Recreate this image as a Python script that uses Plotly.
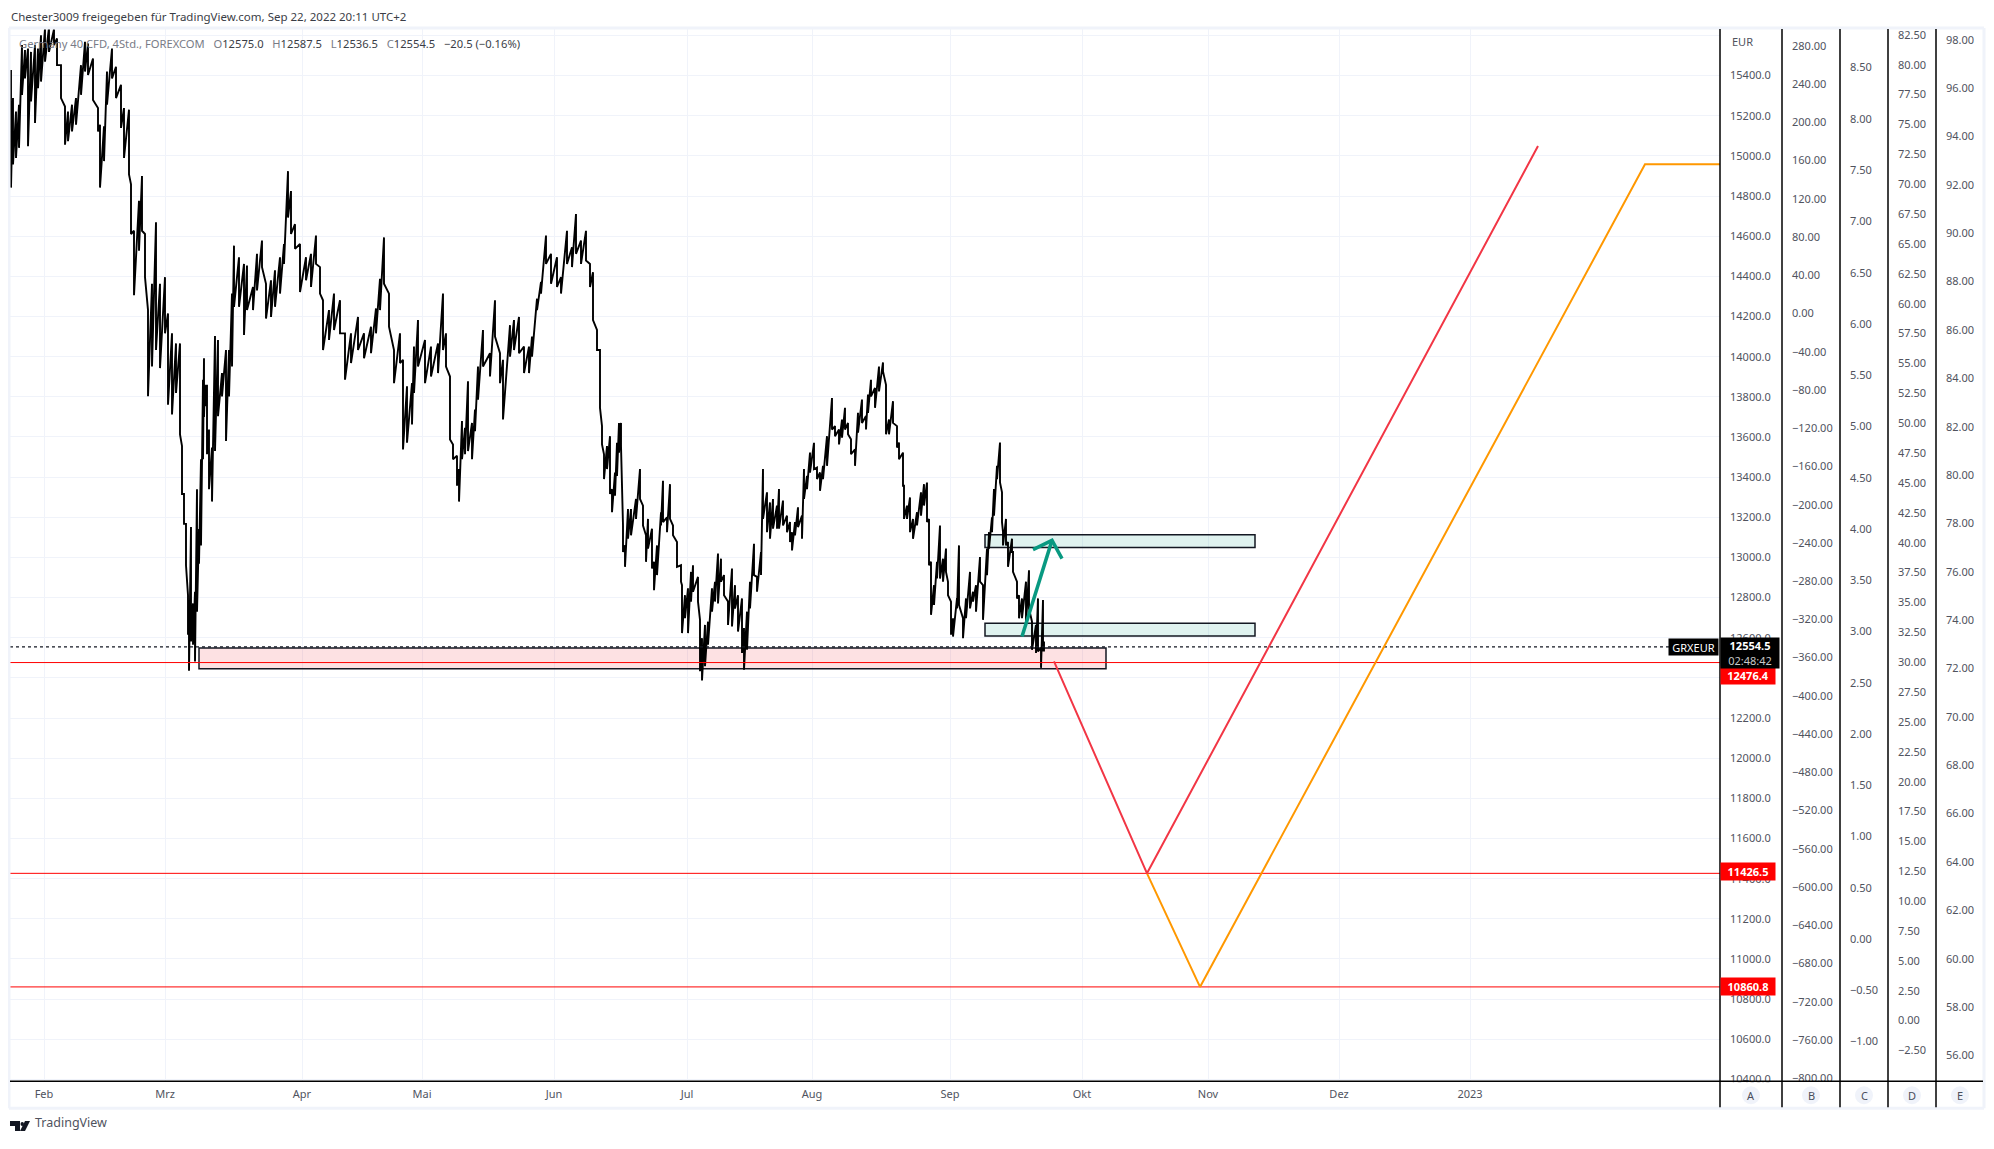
import plotly.graph_objects as go

W, H = 1994, 1149
FONT = "Noto Sans"

# 4h bars, bar number counted from the left edge of the chart
bar_no = [1, 3, 6, 9, 12, 15, 18, 21, 25, 28, 31, 35, 39, 44, 47, 51, 55, 58, 62, 66, 71, 75, 78, 83, 88, 90, 94, 97,
          102, 106, 111, 114, 119, 121, 124, 129, 132, 135, 138, 142, 146, 150, 155, 158, 162, 166, 170, 172, 174,
          176, 178, 179, 181, 183, 185, 187, 189, 191, 193, 194, 195, 197, 199, 202, 205, 208, 212, 216, 219, 222,
          224, 229, 234, 237, 243, 247, 252, 256, 261, 265, 270, 274, 278, 281, 285, 290, 296, 301, 306, 310, 313,
          319, 324, 330, 335, 341, 348, 354, 361, 366, 370, 374, 379, 384, 390, 393, 397, 402, 404, 408, 415, 421,
          428, 433, 436, 440, 443, 447, 449, 452, 455, 458, 462, 465, 468, 473, 480, 485, 490, 493, 500, 504, 509,
          514, 519, 522, 527, 531, 536, 541, 547, 551, 557, 562, 566, 571, 576, 580, 583, 587, 590, 592, 594, 597,
          600, 602, 605, 607, 609, 611, 613, 615, 618, 621, 626, 630, 633, 636, 638, 642, 644, 647, 651, 653, 657,
          660, 663, 667, 671, 672, 675, 678, 681, 683, 688, 690, 692, 695, 698, 702, 705, 708, 711, 714, 718, 722,
          725, 728, 732, 734, 737, 740, 744, 747, 751, 753, 757, 760, 763, 767, 769, 773, 777, 780, 782, 785, 788,
          792, 794, 797, 800, 804, 807, 810, 813, 817, 822, 825, 829, 832, 835, 838, 841, 845, 848, 852, 856, 858,
          861, 865, 869, 873, 876, 879, 883, 887, 889, 893, 894, 897, 900, 903, 907, 911, 914, 917, 919, 921, 924,
          927, 930, 933, 936, 938, 941, 943, 947, 949, 953, 956, 960, 963, 966, 970, 973, 977, 979, 982, 984, 987,
          990, 992, 993, 996, 998, 1002, 1003, 1007, 1009, 1012, 1016, 1019, 1022, 1026, 1028, 1031, 1033, 1034]
high = [15428, 15288, 15221, 15255, 15552, 15527, 15535, 15518, 15552, 15535, 15601, 15634, 15640, 15631, 15585, 15452,
        15246, 15221, 15255, 15288, 15452, 15568, 15560, 15485, 15238, 15155, 15147, 15420, 15535, 15444, 15354, 15238,
        15230, 14858, 14627, 14776, 14900, 14611, 14232, 14363, 14669, 14363, 14396, 14215, 14116, 14066, 14066, 13555,
        13316, 13167, 12812, 12788, 13151, 12771, 12829, 13340, 13142, 13489, 13885, 13992, 13860, 13860, 13637, 13547,
        14103, 14083, 13918, 14033, 14033, 14314, 14553, 14495, 14462, 14454, 14347, 14512, 14578, 14363, 14380, 14430,
        14495, 14561, 14924, 14825, 14660, 14561, 14495, 14512, 14603, 14446, 14281, 14232, 14314, 14281, 14116, 14116,
        14198, 14116, 14149, 14240, 14388, 14594, 14314, 14033, 14116, 13984, 13852, 13868, 14050, 14182, 14083, 14050,
        14066, 14314, 14116, 13901, 13563, 13506, 13440, 13679, 13646, 13877, 13670, 13737, 13951, 14133, 14017, 14281,
        14017, 13984, 14157, 14182, 14198, 14050, 14050, 14100, 14289, 14372, 14603, 14512, 14495, 14396, 14627, 14545,
        14710, 14578, 14627, 14462, 14421, 14133, 14033, 13654, 13514, 13555, 13604, 13340, 13423, 13571, 13670, 13670,
        13159, 13060, 13241, 13241, 13291, 13440, 13258, 13110, 13192, 13143, 12978, 13060, 13225, 13382, 13200, 13365,
        13159, 13077, 12961, 12862, 12812, 12846, 12928, 12961, 12903, 12689, 12598, 12664, 12680, 12846, 12879, 13019,
        12994, 12912, 12780, 12945, 12862, 12812, 12796, 12648, 12730, 12879, 13068, 12903, 13027, 13440, 13324, 13274,
        13291, 13258, 13341, 13283, 13208, 13176, 13126, 13176, 13250, 13208, 13440, 13406, 13522, 13571, 13448, 13423,
        13456, 13604, 13794, 13654, 13637, 13687, 13745, 13670, 13588, 13538, 13720, 13786, 13704, 13811, 13885, 13844,
        13951, 13971, 13860, 13687, 13778, 13654, 13572, 13522, 13357, 13258, 13299, 13192, 13225, 13324, 13365, 13373,
        13192, 12978, 12862, 12978, 13159, 12994, 13044, 12879, 12780, 12697, 12796, 13060, 12697, 12796, 12928, 12829,
        12862, 13002, 12862, 13044, 13126, 13200, 13341, 13456, 13572, 13324, 13126, 13192, 13077, 13093, 13027, 12879,
        12812, 12796, 12879, 12936, 12680, 12664, 12796, 12549, 12788, 12581]
low = [14842, 14957, 14990, 15040, 15304, 15386, 15048, 15271, 15164, 15337, 15370, 15469, 15518, 15552, 15452, 15288,
       15056, 15073, 15122, 15155, 15304, 15420, 15403, 15279, 15122, 14842, 14974, 15255, 15386, 15288, 15139, 14990,
       14908, 14611, 14306, 14528, 14627, 14396, 13803, 13951, 14033, 13943, 14116, 13761, 13712, 13819, 13613, 13316,
       13167, 12961, 12615, 12436, 12581, 12565, 12482, 12730, 12969, 13060, 13489, 13700, 13753, 13514, 13340, 13278,
       13530, 13703, 13802, 13580, 13802, 13951, 14248, 14248, 14108, 14232, 14232, 14330, 14446, 14190, 14198, 14248,
       14314, 14462, 14693, 14611, 14537, 14322, 14380, 14347, 14462, 14314, 14033, 14083, 14133, 14116, 13885, 13968,
       14033, 13992, 14017, 14116, 14232, 14363, 14149, 13868, 13968, 13538, 13571, 13662, 13819, 13951, 13868, 13901,
       13918, 14033, 13951, 13588, 13489, 13357, 13278, 13489, 13514, 13530, 13489, 13629, 13786, 13951, 13901, 14100,
       13868, 13687, 14000, 14033, 14017, 13918, 13918, 14000, 14232, 14314, 14462, 14363, 14347, 14314, 14462, 14446,
       14512, 14462, 14479, 14347, 14182, 14033, 13745, 13563, 13390, 13440, 13316, 13225, 13307, 13406, 13522, 13555,
       13027, 12953, 13093, 13110, 13192, 13291, 13159, 12978, 13044, 12945, 12837, 12912, 13159, 13176, 13126, 13192,
       13110, 12953, 12879, 12623, 12697, 12623, 12780, 12829, 12780, 12433, 12387, 12458, 12565, 12730, 12780, 12771,
       12879, 12812, 12664, 12656, 12746, 12631, 12524, 12441, 12540, 12746, 12912, 12829, 12912, 13192, 13126, 13093,
       13143, 13143, 13143, 13159, 13126, 13077, 13035, 13110, 13151, 13093, 13291, 13340, 13423, 13440, 13390, 13332,
       13390, 13456, 13637, 13604, 13563, 13596, 13637, 13613, 13514, 13456, 13621, 13670, 13637, 13720, 13802, 13745,
       13827, 13926, 13613, 13613, 13670, 13547, 13489, 13357, 13192, 13192, 13126, 13093, 13159, 13208, 13258, 13176,
       12961, 12714, 12763, 12895, 12895, 12879, 12928, 12812, 12615, 12606, 12746, 12763, 12598, 12697, 12746, 12780,
       12730, 12879, 12689, 12912, 13044, 13126, 13208, 13390, 13374, 13176, 13060, 13060, 12953, 13027, 12928, 12796,
       12697, 12697, 12664, 12746, 12540, 12524, 12532, 12450, 12532, 12532]

# price levels and drawings on the chart
close_price = 12554.5
red_levels = [12476.4, 11426.5, 10860.8]
red_path_x = [1044, 1137, 1528]
red_path_y = [12482, 11426.5, 15049]
orange_path_x = [1137, 1190, 1635, 1710]
orange_path_y = [11426.5, 10860.8, 14958, 14958]
arrow_x = [1012, 1042, None, 1023, 1042, 1052]
arrow_y = [12606, 13085, None, 13039, 13085, 12994]
# (first bar, last bar, low, high)
pink_zone = (189, 1096, 12445, 12549)
teal_zones = [(975, 1245, 13049, 13113), (975, 1245, 12608, 12672)]

month_bars = [34, 155, 292, 412, 544, 677, 802, 940, 1072, 1198, 1329, 1460]
month_names = ["Feb", "Mrz", "Apr", "Mai", "Jun", "Jul", "Aug", "Sep", "Okt", "Nov", "Dez", "2023"]

ticks_a = [10400 + 200 * i for i in range(27)]
labels_a = ["%.1f" % t for t in ticks_a[:-1]] + [""]
ticks_b = [-800 + 40 * i for i in range(28)]
ticks_c = [-1 + 0.5 * i for i in range(20)]
ticks_d = [-2.5 + 2.5 * i for i in range(35)]
ticks_e = [56 + 2 * i for i in range(22)]

x0, x1 = 10, 1720
y0, y1 = 27, 1086

# page keeps its 8px body margin plus a small gap under the plot div
BODY = 8
FIG_W, FIG_H = W - 2 * BODY, H - 2 * BODY - 5


def px(x):
    return (x - BODY) / FIG_W


def py(y):
    return 1 - (y - BODY) / FIG_H


fig = go.Figure()
fig.add_trace(go.Scatter(x=[b for b in bar_no for _ in (0, 1)],
                         y=[v for pair in zip(high, low) for v in pair],
                         mode="lines", line=dict(color="#000000", width=1.9)))
fig.add_trace(go.Scatter(x=[0, 1710], y=[close_price, close_price], mode="lines",
                         line=dict(color="#131722", width=1.1, dash="dot")))
for level in red_levels:
    fig.add_trace(go.Scatter(x=[0, 1710], y=[level, level], mode="lines", line=dict(color="#ff0000", width=1)))
fig.add_trace(go.Scatter(x=orange_path_x, y=orange_path_y, mode="lines", line=dict(color="#ff9800", width=2)))
fig.add_trace(go.Scatter(x=red_path_x, y=red_path_y, mode="lines", line=dict(color="#f23645", width=2)))
fig.add_trace(go.Scatter(x=arrow_x, y=arrow_y, mode="lines", line=dict(color="#089981", width=3.5)))
for name in ["y2", "y3", "y4", "y5"]:
    fig.add_trace(go.Scatter(x=[None], y=[None], yaxis=name, mode="lines"))

shapes = []
b0, b1, lo, hi = pink_zone
shapes.append(dict(type="rect", xref="x", yref="y", x0=b0, x1=b1, y0=lo, y1=hi, layer="between",
                   fillcolor="rgba(242,54,69,0.15)", line=dict(color="#131722", width=1.5)))
for b0, b1, lo, hi in teal_zones:
    shapes.append(dict(type="rect", xref="x", yref="y", x0=b0, x1=b1, y0=lo, y1=hi, layer="between",
                       fillcolor="rgba(8,153,129,0.13)", line=dict(color="#131722", width=1.5)))


def paper_rect(xa, ya, xb, yb, color):
    return dict(type="rect", xref="paper", yref="paper", x0=px(xa), x1=px(xb), y0=py(ya), y1=py(yb),
                fillcolor=color, line=dict(width=0), layer="above")


def paper_line(xa, ya, xb, yb, color, width=1.5):
    return dict(type="line", xref="paper", yref="paper", x0=px(xa), x1=px(xb), y0=py(ya), y1=py(yb),
                line=dict(color=color, width=width), layer="above")


# strip under the price scales, the frame and the scale separators
frame = "#f0f3fa"
shapes.append(paper_rect(x1, y1 + 1, 1983, 1112, "#ffffff"))
shapes.append(paper_line(9, 26, 1984, 26, frame, 3))
shapes.append(paper_line(9, 1113, 1984, 1113, frame, 3))
shapes.append(paper_line(9, 26, 9, 1113, frame, 3))
shapes.append(paper_line(1984, 26, 1984, 1113, frame, 3))
shapes.append(paper_line(x0, y1, 1983, y1, "#000000"))
for xv in [1720, 1782, 1840, 1888, 1936]:
    shapes.append(paper_line(xv, 27, xv, 1112, "#000000"))

annotations = []


def note(text, x, y, size=11, color="#50535e", anchor="left", **kw):
    annotations.append(dict(text=text, x=px(x), y=py(y), xref="paper", yref="paper", showarrow=False,
                            xanchor=anchor, yanchor="middle", font=dict(family=FONT, size=size, color=color), **kw))


for letter, cx in zip("ABCDE", [1751, 1811, 1864, 1912, 1960]):
    shapes.append(dict(type="circle", xref="paper", yref="paper", x0=px(cx - 9), x1=px(cx + 9),
                       y0=py(1109), y1=py(1091), fillcolor=frame, line=dict(width=0), layer="above"))
    note(letter, cx, 1100, size=11, color="#4a4e5c", anchor="center")

note("EUR", 1730, 40)
note("Chester3009 freigegeben für TradingView.com, Sep 22, 2022 20:11 UTC+2", 9, 15, size=11.5, color="#3a3d46")
g = "<span style='color:#787b86'>%s</span>"
note(g % "Germany 40 CFD, 4Std., FOREXCOM" + "   " + g % "O" + "12575.0   " + g % "H" + "12587.5   " + g % "L"
     + "12536.5   " + g % "C" + "12554.5   −20.5 (−0.16%)", 17, 42, size=11.2, color="#3a3d46")
note("TradingView", 33, 1127, size=12.5, color="#50535e")

# logo
shapes.append(dict(type="path", xref="paper", yref="paper", fillcolor="#131722", line=dict(width=0), layer="above",
                   path="M %f %f L %f %f L %f %f L %f %f L %f %f L %f %f Z" % (
                       px(10), py(1126), px(20), py(1126), px(20), py(1136), px(15), py(1136), px(15), py(1131),
                       px(10), py(1131))))
shapes.append(dict(type="path", xref="paper", yref="paper", fillcolor="#131722", line=dict(width=0), layer="above",
                   path="M %f %f L %f %f L %f %f L %f %f Z" % (
                       px(25), py(1126), px(30), py(1126), px(25), py(1136), px(20), py(1136))))
shapes.append(dict(type="circle", xref="paper", yref="paper", fillcolor="#131722", line=dict(width=0), layer="above",
                   x0=px(20.5), x1=px(24), y0=py(1131), y1=py(1127)))


def price_label(text, y, width, color):
    annotations.append(dict(text=text, x=px(1720), xref="paper", y=py(y), yref="paper", showarrow=False, xanchor="left",
                            yanchor="middle", width=width, height=15, bgcolor=color, align="center",
                            font=dict(family=FONT, size=11, color="#ffffff")))


for level, label_y in zip(red_levels, [678, 875, 991]):
    price_label("<b>%.1f</b>" % level, label_y, 52, "#ff0000")
annotations.append(dict(text="<b>12554.5</b><br><span style='color:#c8c8c8'>02:48:42</span>", x=px(1720), xref="paper",
                        y=py(655), yref="paper", showarrow=False, xanchor="left", yanchor="middle", width=56, height=28,
                        bgcolor="#000000", font=dict(family=FONT, size=11, color="#ffffff")))
annotations.append(dict(text="GRXEUR", x=px(1719), xref="paper", y=py(649), yref="paper", showarrow=False,
                        xanchor="right", yanchor="middle", width=47, height=14, bgcolor="#000000",
                        font=dict(family=FONT, size=11, color="#ffffff")))

domain_x = [px(x0), px(x1)]
domain_y = [py(y1), py(y0)]
tick_font = dict(family=FONT, size=11, color="#50535e")


def scale(ticks, top, bottom, position, fmt):
    return dict(overlaying="y", anchor="free", position=px(position), side="right", range=[bottom, top],
                tickmode="array", tickvals=ticks, tickformat=fmt, ticks="", showgrid=False, zeroline=False,
                showline=False, ticklabelstandoff=9, tickfont=tick_font)


fig.update_layout(
    width=FIG_W, height=FIG_H, autosize=False, showlegend=False,
    margin=dict(l=0, r=0, t=0, b=0), paper_bgcolor="#ffffff", plot_bgcolor="#ffffff",
    shapes=shapes, annotations=annotations,
    xaxis=dict(domain=domain_x, range=[0, 1710], tickmode="array", tickvals=month_bars, ticktext=month_names,
               showgrid=True, gridcolor="#f0f3fa", gridwidth=1.3, zeroline=False, showline=False, ticks="",
               tickfont=tick_font, ticklabelstandoff=5),
    yaxis=dict(domain=domain_y, side="right", range=[10390.6, 15632.6], tickmode="array", tickvals=ticks_a,
               ticktext=labels_a, showgrid=True, gridcolor="#f0f3fa", gridwidth=1.3, zeroline=False, showline=False,
               ticks="", ticklabelstandoff=9, tickfont=tick_font),
    yaxis2=scale(ticks_b, 297.7, -803.2, 1782, ".2f"),
    yaxis3=scale(ticks_c, 8.878, -1.388, 1840, ".2f"),
    yaxis4=scale(ticks_d, 83.0, -5.08, 1888, ".2f"),
    yaxis5=scale(ticks_e, 98.45, 54.93, 1936, ".2f"),
)

fig.write_html("out.html")
